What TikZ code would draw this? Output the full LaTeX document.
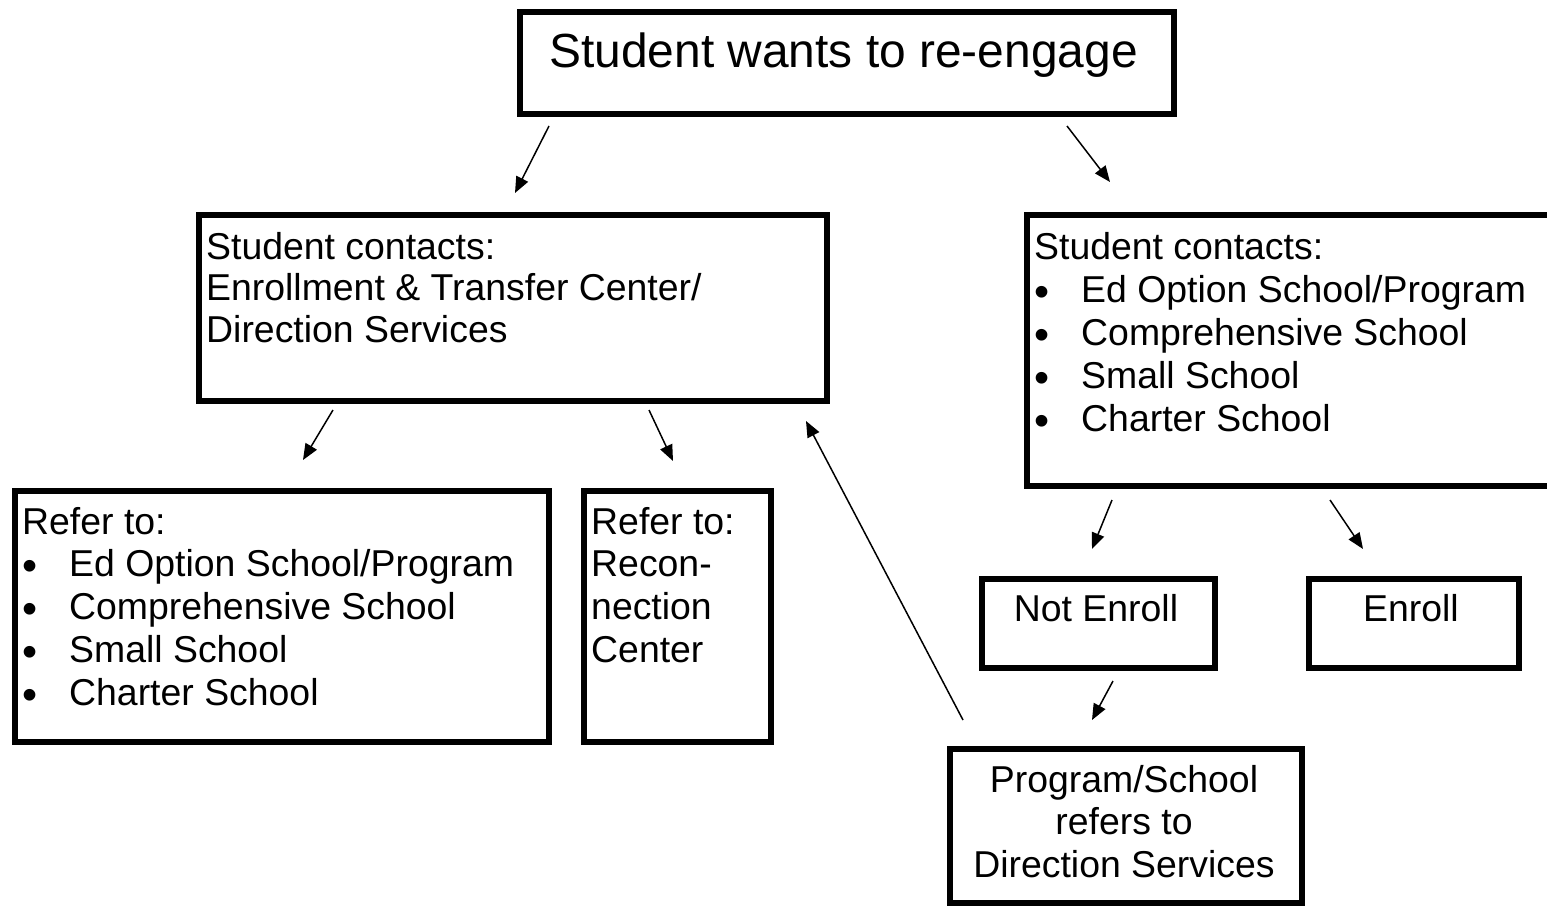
\documentclass[tikz,border=0pt]{standalone}
\usepackage{fontspec}
\setmainfont{Liberation Sans}
\usetikzlibrary{arrows.meta}
\tikzset{
  box/.style={draw=black, line width=6pt, rectangle, inner sep=0pt, anchor=north west},
  txt/.style={inner sep=0pt, anchor=base west, font=\fontsize{37.4}{43}\selectfont},
  ctxt/.style={inner sep=0pt, anchor=base, font=\fontsize{37.4}{43}\selectfont},
  big/.style={inner sep=0pt, anchor=base, font=\fontsize{47.9}{57}\selectfont},
  conn/.style={line width=1.5pt, -{Triangle[length=16pt,width=13pt]}},
}
\newcommand{\bul}{\makebox[47pt][l]{\raisebox{-4.5pt}{\scalebox{1.15}{•}}}}
\begin{document}
\begin{tikzpicture}[x=1pt,y=-1pt]
\useasboundingbox (0,0) rectangle (1547,905);
\clip (0,0) rectangle (1547,905);
\fill[white] (0,0) rectangle (1547,905);

% boxes
\node[box, minimum width=654pt, minimum height=102pt] (top) at (517,9) {};
\node[box, minimum width=628pt, minimum height=186pt] (lmid) at (196,212) {};
\node[box, minimum width=560pt, minimum height=271pt] (rmid) at (1024,212) {};
\node[box, minimum width=534pt, minimum height=251pt] (lbot) at (12,488) {};
\node[box, minimum width=187pt, minimum height=251pt] (recon) at (581,488) {};
\node[box, minimum width=233pt, minimum height=89pt] (notenr) at (979,576) {};
\node[box, minimum width=210pt, minimum height=89pt] (enr) at (1306,576) {};
\node[box, minimum width=352pt, minimum height=154pt] (prog) at (947,746) {};

% texts
\node[big] (t1) at (843.5,67) {Student wants to re-engage};

\node[txt] (l1) at (206,259) {Student contacts:};
\node[txt] (l2) at (206,300.5) {Enrollment \& Transfer Center/};
\node[txt] (l3) at (206,342) {Direction Services};

\node[txt] (r1) at (1034,259) {Student contacts:};
\node[txt] (r2) at (1034,302) {\bul Ed Option School/Program};
\node[txt] (r3) at (1034,345) {\bul Comprehensive School};
\node[txt] (r4) at (1034,388) {\bul Small School};
\node[txt] (r5) at (1034,431) {\bul Charter School};

\node[txt] (b1) at (22,534) {Refer to:};
\node[txt] (b2) at (22,576) {\bul Ed Option School/Program};
\node[txt] (b3) at (22,619) {\bul Comprehensive School};
\node[txt] (b4) at (22,662) {\bul Small School};
\node[txt] (b5) at (22,705) {\bul Charter School};

\node[txt] (c1) at (591,534) {Refer to:};
\node[txt] (c2) at (591,576) {Recon-};
\node[txt] (c3) at (591,619) {nection};
\node[txt] (c4) at (591,662) {Center};

\node[ctxt] (ne) at (1096,621) {Not Enroll};
\node[ctxt] (en) at (1411,621) {Enroll};

\node[ctxt] (p1) at (1124,792) {Program/School};
\node[ctxt] (p2) at (1124,834) {refers to};
\node[ctxt] (p3) at (1124,877) {Direction Services};

% connector end points
\coordinate (a1s) at (549,126); \coordinate (a1e) at (515,193);
\coordinate (a2s) at (1067,126); \coordinate (a2e) at (1110,182);
\coordinate (a3s) at (333,410); \coordinate (a3e) at (303,460);
\coordinate (a4s) at (649,410); \coordinate (a4e) at (673,461);
\coordinate (a5s) at (1112,500); \coordinate (a5e) at (1092,549);
\coordinate (a6s) at (1330,500); \coordinate (a6e) at (1363,549);
\coordinate (a7s) at (1113,681); \coordinate (a7e) at (1092,720);
\coordinate (a8s) at (963,720); \coordinate (a8e) at (806,421);

\draw[conn] (a1s) -- (a1e);
\draw[conn] (a2s) -- (a2e);
\draw[conn] (a3s) -- (a3e);
\draw[conn] (a4s) -- (a4e);
\draw[conn] (a5s) -- (a5e);
\draw[conn] (a6s) -- (a6e);
\draw[conn] (a7s) -- (a7e);
\draw[conn] (a8s) -- (a8e);
\end{tikzpicture}
\end{document}
